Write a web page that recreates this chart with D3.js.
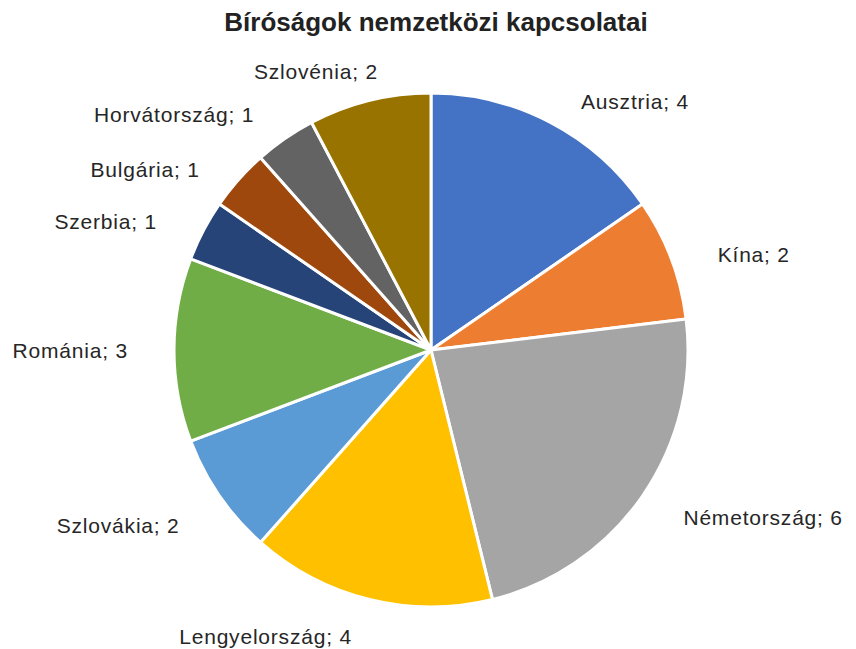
<!DOCTYPE html>
<html>
<head>
<meta charset="utf-8">
<script src="https://cdn.jsdelivr.net/npm/d3@7"></script>
<style>
  body { margin: 0; background: #fff; }
  svg { display: block; }
</style>
</head>
<body>
<div id="chart"></div>
<script>
// data, clockwise from 12 o'clock
var countries = ["Ausztria", "Kína", "Németország", "Lengyelország", "Szlovákia",
	"Románia", "Szerbia", "Bulgária", "Horvátország", "Szlovénia"];
var counts = [4, 2, 6, 4, 2, 3, 1, 1, 1, 2];
var colors = ["#4472C4", "#ED7D31", "#A5A5A5", "#FFC000", "#5B9BD5",
	"#70AD47", "#264478", "#9E480E", "#636363", "#997300"];
// small hand nudges for the labels (Excel "best fit" placement)
var labelNudge = [[12, 15], [9, 10], [8, -1], [-8, -2], [-7, 7],
	[-6, 1], [-11, 10], [-9, 17], [-8, 9], [18, 10]];

var width = 856, height = 649;
var CX = 431, CY = 350, R = 257, LR = 297;

var svg = d3.select("#chart").append("svg")
	.attr("width", width).attr("height", height);

svg.append("text").text("Bíróságok nemzetközi kapcsolatai")
	.attr("x", 436).attr("y", 31)
	.style("font-family", "'Liberation Sans', Arial, sans-serif")
	.style("font-size", "26px")
	.style("font-weight", 700)
	.style("fill", "#222")
	.style("text-anchor", "middle");

var data = countries.map((c, i) => ({ name: c, value: counts[i], i: i }));

var pie = d3.pie().sort(null).value(d => d.value);
var arc = d3.arc().innerRadius(0).outerRadius(R);
var arcs = pie(data);

var g = svg.append("g").attr("transform", `translate(${ CX },${ CY })`);

g.selectAll(".slice")
	.data(arcs)
	.enter()
	.append("path")
	.attr("class", "slice")
	.attr("d", arc)
	.style("fill", d => colors[d.data.i])
	.style("stroke", "#fff")
	.style("stroke-width", "3px")
	.style("stroke-linejoin", "round");

g.selectAll(".label")
	.data(arcs)
	.enter()
	.append("text")
	.attr("class", "label")
	.text(d => `${ d.data.name }; ${ d.data.value }`)
	.attr("x", d => {
		let a = (d.startAngle + d.endAngle) / 2;
		return LR * Math.sin(a) + labelNudge[d.data.i][0];
	})
	.attr("y", d => {
		let a = (d.startAngle + d.endAngle) / 2;
		return -LR * Math.cos(a) + labelNudge[d.data.i][1];
	})
	.attr("dy", "0.35em")
	.style("text-anchor", d => (d.startAngle + d.endAngle) / 2 < Math.PI ? "start" : "end")
	.style("font-family", "'Liberation Sans', Arial, sans-serif")
	.style("font-size", "21px")
	.style("letter-spacing", "0.8px")
	.style("fill", "#262626");
</script>
</body>
</html>
